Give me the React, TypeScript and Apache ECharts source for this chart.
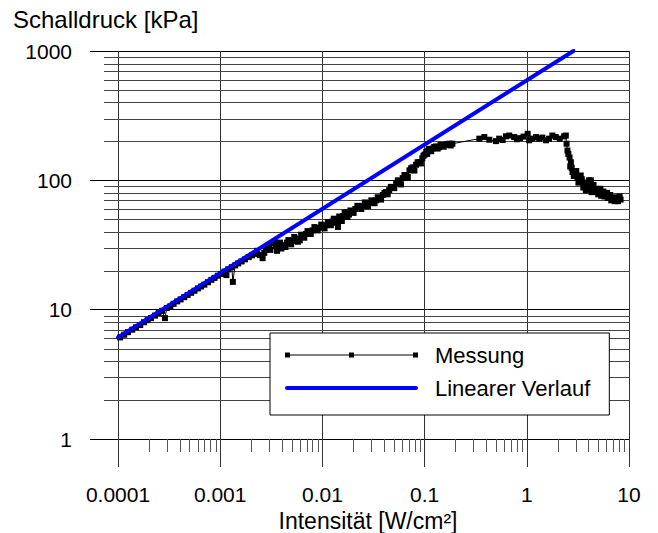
import React, { useEffect, useRef } from 'react';
import * as echarts from 'echarts';

const FONT = "'Liberation Sans', Arial, Helvetica, sans-serif";

const X_MIN = 0.0001;
const X_MAX = 10;
const Y_MIN = 1;
const Y_MAX = 1000;
const X_DECADES = [0.0001, 0.001, 0.01, 0.1, 1];
const Y_DECADES = [1, 10, 100];
const MINOR_STEPS = [2, 3, 4, 5, 6, 7, 8, 9];

// Messung, segment 1: low intensities (Intensität [W/cm²], Schalldruck [kPa])
const lowI = [
  1.05e-4, 1.15e-4, 1.25e-4, 1.38e-4, 1.5e-4, 1.65e-4, 1.8e-4, 1.95e-4, 2.1e-4, 2.3e-4,
  2.5e-4, 2.7e-4, 2.88e-4, 3.0e-4, 3.25e-4, 3.5e-4, 3.8e-4, 4.1e-4, 4.45e-4, 4.8e-4,
  5.2e-4, 5.6e-4, 6.05e-4, 6.5e-4, 7.0e-4, 7.6e-4, 8.2e-4, 8.8e-4, 9.5e-4, 1.02e-3,
  1.1e-3, 1.15e-3, 1.2e-3, 1.3e-3, 1.33e-3, 1.4e-3, 1.5e-3, 1.62e-3, 1.75e-3, 1.9e-3,
];
const lowP = [
  6.1, 6.4, 6.7, 7.0, 7.3, 7.6, 8.0, 8.3, 8.6, 9.0,
  9.4, 9.8, 8.6, 10.3, 10.6, 11.1, 11.6, 12.0, 12.5, 13.0,
  13.5, 14.0, 14.6, 15.1, 15.6, 16.3, 17.0, 17.6, 18.3, 18.9,
  19.7, 18.5, 20.5, 21.3, 16.4, 22.0, 22.8, 23.6, 24.5, 25.5,
];

// Messung, segment 2: rising band
const midI = [
  2.05e-3, 2.2e-3, 2.3e-3, 2.44e-3, 2.6e-3, 2.7e-3, 2.8e-3, 2.9e-3, 3.0e-3, 3.1e-3,
  3.27e-3, 3.4e-3, 3.5e-3, 3.6e-3, 3.75e-3, 3.85e-3, 3.97e-3, 4.05e-3, 4.2e-3, 4.35e-3,
  4.5e-3, 4.65e-3, 4.8e-3, 4.95e-3, 5.1e-3, 5.3e-3, 5.5e-3, 5.75e-3, 6.0e-3, 6.2e-3,
  6.4e-3, 6.65e-3, 6.9e-3, 7.15e-3, 7.4e-3, 7.7e-3, 8.0e-3, 8.35e-3, 8.7e-3, 9.0e-3,
  9.4e-3, 9.75e-3, 0.0101, 0.0105, 0.0109, 0.0113, 0.0117, 0.0121, 0.0125, 0.0129,
  0.0133, 0.0137, 0.0142, 0.0146, 0.015, 0.0155, 0.016, 0.0165, 0.0171, 0.0176,
  0.0182, 0.0188, 0.0195, 0.0202, 0.021, 0.022, 0.0231, 0.024, 0.025, 0.026,
  0.027, 0.028, 0.029, 0.0301, 0.0312, 0.0324, 0.0336, 0.0348, 0.036, 0.0375,
  0.039, 0.0405, 0.0421, 0.0435, 0.045, 0.0467, 0.0485, 0.0505, 0.0527, 0.0547,
  0.0568, 0.0588, 0.061, 0.0635, 0.066, 0.0685, 0.0711, 0.0738, 0.0765, 0.0795,
  0.0825, 0.0855, 0.0889, 0.092, 0.095, 0.0975, 0.1, 0.1035, 0.106, 0.108,
  0.11, 0.113, 0.116, 0.12, 0.124, 0.1295, 0.134, 0.138, 0.143, 0.148,
  0.154, 0.16, 0.167, 0.1745, 0.18, 0.187,
];
const midP = [
  26.3, 27.0, 28.5, 26.4, 25.0, 27.5, 29.0, 31.0, 30.0, 29.0,
  32.6, 33.5, 31.0, 28.5, 32.0, 33.0, 29.7, 31.0, 31.5, 30.5,
  33.0, 34.5, 33.8, 32.0, 34.0, 36.5, 35.5, 33.5, 34.4, 38.0,
  37.0, 36.0, 38.5, 40.5, 39.5, 38.5, 41.0, 43.5, 42.4, 41.0,
  43.0, 45.5, 44.0, 42.5, 45.0, 47.5, 46.0, 45.0, 48.0, 50.5,
  49.5, 47.0, 43.6, 52.5, 51.0, 48.5, 53.0, 56.5, 55.3, 52.0,
  54.5, 58.5, 57.5, 56.0, 60.0, 63.5, 62.2, 60.0, 63.5, 67.5,
  65.5, 63.0, 67.0, 70.0, 69.0, 66.5, 70.1, 74.0, 73.0, 71.0,
  77.0, 80.0, 81.2, 78.0, 84.0, 89.0, 88.0, 87.0, 95.0, 100,
  96.0, 93.0, 104, 110, 110, 106, 119.5, 124, 126, 119,
  132, 138, 138, 135, 148, 155, 158, 165, 160, 168,
  175, 172, 168, 176, 181, 183, 176, 180, 188, 186,
  182, 188, 191, 192, 186, 192,
];

// Messung, segment 3: plateau
const plateauI = [
  0.343, 0.384, 0.43, 0.499, 0.537, 0.58, 0.625, 0.673, 0.753, 0.8,
  0.86, 0.93, 1.02, 1.055, 1.136, 1.23, 1.32, 1.42, 1.54, 1.65,
  1.78, 1.92, 2.1, 2.32, 2.41, 2.45,
];
const plateauP = [
  210, 216, 206, 201, 210, 205, 219, 222, 216, 208,
  212, 218, 229, 204, 210, 216, 210, 214, 204, 210,
  222, 216, 210, 219, 222, 192,
];

// Messung, segment 4: drop-off
const dropI = [
  2.5, 2.55, 2.62, 2.66, 2.7, 2.75, 2.8, 2.88, 2.95, 3.05,
  3.13, 3.2, 3.37, 3.45, 3.5, 3.57, 3.64, 3.7, 3.78, 3.85,
  3.95, 4.07, 4.15, 4.23, 4.3, 4.39, 4.5, 4.6, 4.72, 4.85,
  5.0, 5.09, 5.25, 5.35, 5.48, 5.6, 5.75, 5.92, 6.1, 6.2,
  6.38, 6.55, 6.7, 6.87, 7.1, 7.25, 7.41, 7.6, 7.8, 7.98,
  8.1, 8.28,
];
const dropP = [
  170, 160, 150, 128, 138, 125, 116, 108, 112, 118,
  106, 96, 109, 102, 97, 88, 91.5, 95, 83.7, 92,
  86, 100, 94, 100, 81, 88.8, 92, 84, 81.2, 86,
  78, 83.7, 86, 76, 81.2, 82, 75, 78.9, 80, 73,
  74.3, 77, 70, 72.2, 74, 69, 70.1, 72, 69, 73.5,
  75, 71,
];

// Linearer Verlauf (end points)
const linI = [0.0001, 2.86];
const linP = [6.1, 1000];

const messI = [...lowI, ...midI, ...plateauI, ...dropI];
const messP = [...lowP, ...midP, ...plateauP, ...dropP];

const xMinorVals: number[] = [];
X_DECADES.forEach((d) => MINOR_STEPS.forEach((m) => xMinorVals.push(Number((d * m).toPrecision(3)))));
const yMinorVals: number[] = [];
Y_DECADES.forEach((d) => MINOR_STEPS.forEach((m) => yMinorVals.push(d * m)));

const fmt = (v: number) => String(Number(Number(v).toPrecision(6)));

function buildOption(): any {
  return {
    animation: false,
    backgroundColor: '#ffffff',
    textStyle: { fontFamily: FONT },
    title: {
      text: 'Schalldruck [kPa]',
      left: 13,
      top: 7,
      padding: 0,
      textStyle: { fontFamily: FONT, fontSize: 24, fontWeight: 'normal', color: '#000', lineHeight: 24 },
    },
    legend: {
      show: true,
      orient: 'vertical',
      left: 270,
      top: 333,
      padding: [11, 19, 16, 15],
      itemGap: 11,
      itemWidth: 133,
      itemHeight: 5,
      symbolKeepAspect: true,
      selectedMode: false,
      backgroundColor: '#ffffff',
      borderColor: '#000',
      borderWidth: 1,
      borderRadius: 0,
      itemStyle: { borderWidth: 0 },
      textStyle: { fontFamily: FONT, fontSize: 22, color: '#000', lineHeight: 22, padding: [0, 0, 0, 12] },
      data: [
        {
          name: 'Messung',
          icon: 'path://M0 0h5v5h-5zM64 0h5v5h-5zM128 0h5v5h-5zM0 1.9h133v1.2h-133z',
          itemStyle: { color: '#000', borderWidth: 0 },
        },
        {
          name: 'Linearer Verlauf',
          icon: 'path://M2 0h129a2 2 0 0 1 0 4h-129a2 2 0 0 1 0-4z',
          itemStyle: { color: '#0000ff', borderWidth: 0 },
        },
      ],
    },
    grid: { left: 118, right: 29, top: 51, bottom: 94, show: false, containLabel: false, outerBoundsMode: 'none' },
    xAxis: [
      {
        type: 'log',
        logBase: 10,
        min: X_MIN,
        max: X_MAX,
        position: 'bottom',
        name: 'Intensität [W/cm²]',
        nameLocation: 'middle',
        nameGap: 69,
        nameTextStyle: { fontFamily: FONT, fontSize: 23, color: '#000', padding: [0, 11, 0, 0] },
        axisLine: { show: true, onZero: false, lineStyle: { color: '#000', width: 1 } },
        axisTick: { show: true, inside: false, length: 28, lineStyle: { color: '#333', width: 1 } },
        axisLabel: {
          show: true,
          margin: 45,
          fontFamily: FONT,
          fontSize: 21,
          color: '#000',
          formatter: fmt,
          showMinLabel: true,
          showMaxLabel: true,
        },
        splitLine: { show: true, lineStyle: { color: '#333', width: 1 } },
        minorTick: { show: false },
        minorSplitLine: { show: false },
      },
    ],
    yAxis: [
      {
        type: 'log',
        logBase: 10,
        min: Y_MIN,
        max: Y_MAX,
        position: 'left',
        axisLine: { show: false, onZero: false },
        axisTick: { show: true, inside: false, length: 28, lineStyle: { color: '#000', width: 1 } },
        axisLabel: {
          show: true,
          margin: 46,
          fontFamily: FONT,
          fontSize: 21,
          color: '#000',
          formatter: fmt,
          showMinLabel: true,
          showMaxLabel: true,
        },
        splitLine: { show: true, lineStyle: { color: '#000', width: 1 } },
        minorTick: { show: false },
        minorSplitLine: { show: false },
      },
    ],
    series: [
      {
        type: 'custom',
        name: 'yMinor',
        silent: true,
        clip: false,
        z: 1,
        data: yMinorVals.map((v) => [X_MIN, v]),
        renderItem: (_p: any, api: any) => {
          const v = api.value(1);
          const a = api.coord([X_MIN, v]);
          const b = api.coord([X_MAX, v]);
          const y = Math.round(a[1]) + 0.5;
          return {
            type: 'line',
            shape: { x1: Math.round(a[0]) - 14, y1: y, x2: Math.round(b[0]) + 0.5, y2: y },
            style: { stroke: '#444', lineWidth: 1 },
          };
        },
      },
      {
        type: 'custom',
        name: 'xMinor',
        silent: true,
        clip: false,
        z: 1,
        data: xMinorVals.map((v) => [v, Y_MIN]),
        renderItem: (_p: any, api: any) => {
          const v = api.value(0);
          const a = api.coord([v, Y_MIN]);
          const x = Math.round(a[0]) + 0.5;
          return {
            type: 'line',
            shape: { x1: x, y1: a[1], x2: x, y2: a[1] + 13 },
            style: { stroke: '#555', lineWidth: 1 },
          };
        },
      },
      {
        type: 'line',
        name: 'Messung',
        data: messI.map((x, i) => [x, messP[i]]),
        symbol: 'rect',
        symbolSize: 6,
        showSymbol: true,
        showAllSymbol: true,
        itemStyle: { color: '#000', borderWidth: 0 },
        lineStyle: { color: '#000', width: 1 },
        z: 2,
      },
      {
        type: 'line',
        name: 'Linearer Verlauf',
        data: linI.map((x, i) => [x, linP[i]]),
        showSymbol: false,
        symbol: 'none',
        itemStyle: { color: '#0000ff' },
        lineStyle: { color: '#0000ff', width: 4, cap: 'round' },
        z: 3,
      },
    ],
  };
}

export default function App() {
  const ref = useRef<HTMLDivElement>(null);
  useEffect(() => {
    if (!ref.current) return;
    const chart = echarts.init(ref.current, undefined, { renderer: 'svg' });
    chart.setOption(buildOption());
    return () => chart.dispose();
  }, []);
  return (
    <div
      ref={ref}
      style={{ position: 'fixed', left: 0, top: 0, width: 658, height: 533, background: '#ffffff' }}
    />
  );
}
